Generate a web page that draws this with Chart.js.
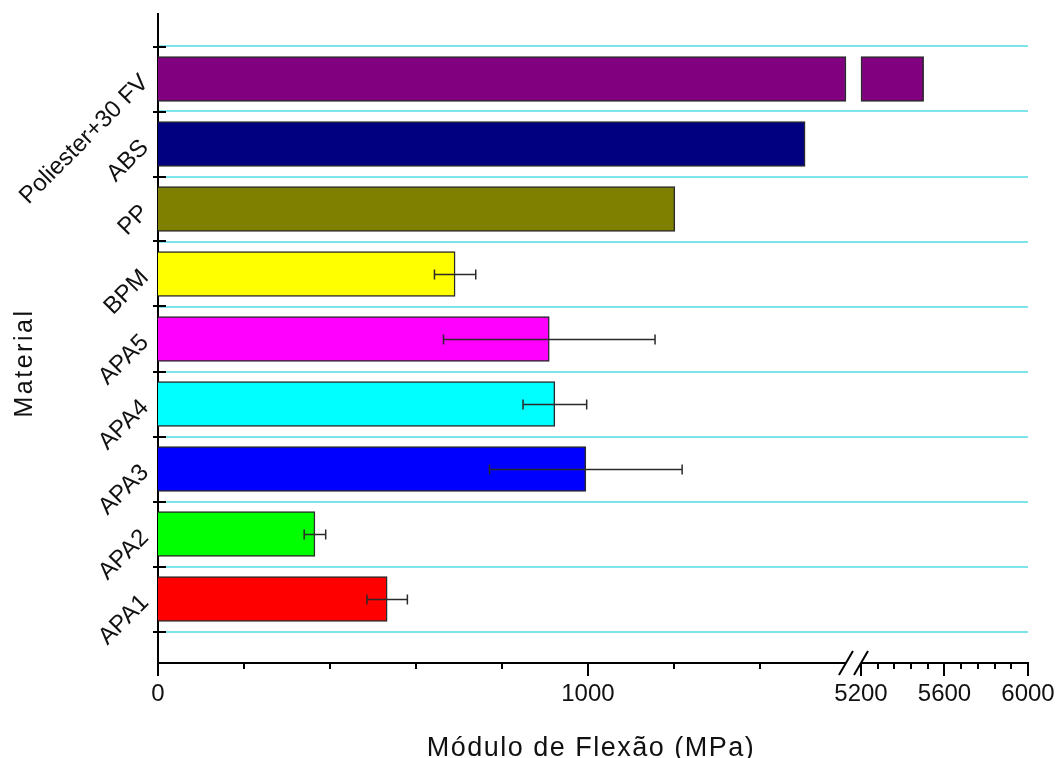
<!DOCTYPE html>
<html>
<head>
<meta charset="utf-8">
<script src="https://cdn.jsdelivr.net/npm/chart.js@4"></script>
<style>
  html, body { margin: 0; padding: 0; background: #fff; }
  canvas { display: block; }
</style>
</head>
<body>
<canvas id="chart" width="1057" height="758"></canvas>
<script>
// ====== DATA ======
const materials = ['APA1', 'APA2', 'APA3', 'APA4', 'APA5', 'BPM', 'PP', 'ABS', 'Poliester+30 FV'];
const modulus   = [533, 365, 995, 923, 910, 691, 1202, 1505, 5500];
const modErr    = [47, 25, 224, 74, 246, 48, null, null, null];
const barColors = ['#ff0000', '#00ff00', '#0000ff', '#00ffff', '#ff00ff', '#ffff00', '#808000', '#000080', '#800080'];

const xMajor      = [0, 1000, 5200, 5600, 6000];
const xTickLabels = ['0', '1000', '5200', '5600', '6000'];
const xMinor      = [200, 400, 600, 800, 1200, 1400, 5280, 5360, 5440, 5520, 5680, 5760, 5840, 5920];

// ====== BROKEN AXIS ======
// 0..1600 at full scale, then 5200..6000 squeezed
const LEFT_MAX = 1600, RIGHT_MIN = 5200, RIGHT_MAX = 6000;
const GAP = 35, RIGHT_K = 0.4855;
function toV(x) {
  if (x <= LEFT_MAX) return x;
  if (x < RIGHT_MIN) return LEFT_MAX + GAP / 2;
  return LEFT_MAX + GAP + (x - RIGHT_MIN) * RIGHT_K;
}

const FONT = '"Liberation Sans", Arial, sans-serif';
Chart.defaults.font.family = FONT;
Chart.defaults.color = '#111';

const leftData = modulus.map((v, i) => ({ y: i, x: toV(Math.min(v, LEFT_MAX)) }));
const rightIdx = modulus.map((v, i) => i).filter(i => modulus[i] > RIGHT_MIN);
const rightData = rightIdx.map(i => ({ y: i, x: [toV(RIGHT_MIN), toV(modulus[i])] }));

function noPad(s) {
  s.paddingLeft = s.paddingRight = s.paddingTop = s.paddingBottom = 0;
}

// ====== EXTRA DRAWING ======
const breakAxis = {
  id: 'breakAxis',
  afterDatasetsDraw(chart) {
    const { ctx, scales: { x, y } } = chart;
    ctx.save();
    ctx.strokeStyle = '#2a2a2a';
    ctx.lineWidth = 1.5;
    modulus.forEach((v, i) => {
      const e = modErr[i];
      if (e == null) return;
      const py = Math.round(y.getPixelForValue(i)) + 0.5;
      const x1 = x.getPixelForValue(toV(v - e));
      const x2 = x.getPixelForValue(toV(v + e));
      ctx.beginPath();
      ctx.moveTo(x1, py); ctx.lineTo(x2, py);
      ctx.moveTo(x1, py - 5); ctx.lineTo(x1, py + 5);
      ctx.moveTo(x2, py - 5); ctx.lineTo(x2, py + 5);
      ctx.stroke();
    });
    ctx.restore();
  },
  afterDraw(chart) {
    const { ctx, chartArea: a, scales: { x, y } } = chart;
    const px = v => x.getPixelForValue(toV(v));
    ctx.save();
    ctx.strokeStyle = '#000';
    ctx.lineWidth = 2;

    // y ticks at the category boundaries
    for (let i = 0; i <= materials.length; i++) {
      const py = Math.round(y.getPixelForValue(i - 0.5));
      ctx.beginPath();
      ctx.moveTo(a.left - 5, py); ctx.lineTo(a.left + 8, py);
      ctx.stroke();
    }

    // x axis line in two pieces
    const ay = a.bottom - 1;
    ctx.beginPath();
    ctx.moveTo(a.left - 1, ay); ctx.lineTo(px(LEFT_MAX), ay);
    ctx.moveTo(px(RIGHT_MIN), ay); ctx.lineTo(px(RIGHT_MAX) + 1, ay);
    ctx.stroke();

    ctx.beginPath();
    xMajor.forEach(v => { const p = Math.round(px(v)); ctx.moveTo(p, ay); ctx.lineTo(p, ay + 13); });
    xMinor.forEach(v => { const p = Math.round(px(v)); ctx.moveTo(p, ay); ctx.lineTo(p, ay + 6); });
    ctx.stroke();

    // break marks
    [px(LEFT_MAX), px(RIGHT_MIN)].forEach(cx => {
      ctx.beginPath();
      ctx.moveTo(cx - 7, ay + 12); ctx.lineTo(cx + 7, ay - 12);
      ctx.stroke();
    });

    // axis titles
    ctx.fillStyle = '#111';
    ctx.textAlign = 'center';
    ctx.textBaseline = 'alphabetic';
    ctx.font = '27px ' + FONT;
    ctx.letterSpacing = '1.5px';
    ctx.fillText('Módulo de Flexão (MPa)', 591, 756);

    ctx.translate(32, 363);
    ctx.rotate(-Math.PI / 2);
    ctx.font = '25px ' + FONT;
    ctx.letterSpacing = '2.5px';
    ctx.fillText('Material', 0, 0);
    ctx.restore();
  }
};

// ====== CHART ======
new Chart(document.getElementById('chart'), {
  type: 'bar',
  data: {
    datasets: [
      { data: leftData, backgroundColor: barColors, borderColor: '#2a2a2a', borderWidth: 1.5,
        barThickness: 45, grouped: false },
      { data: rightData, backgroundColor: rightIdx.map(i => barColors[i]), borderColor: '#2a2a2a',
        borderWidth: 1.5, borderSkipped: false, barThickness: 45, grouped: false }
    ]
  },
  options: {
    indexAxis: 'y',
    responsive: false,
    animation: false,
    layout: { padding: { top: 14, right: 29, left: 0, bottom: 0 } },
    plugins: { legend: { display: false }, tooltip: { enabled: false } },
    scales: {
      x: {
        type: 'linear', min: 0, max: toV(RIGHT_MAX),
        grid: { display: false, drawTicks: false },
        border: { display: false },
        afterBuildTicks: s => { s.ticks = xMajor.map(v => ({ value: toV(v) })); },
        ticks: {
          callback: (val, i) => xTickLabels[i],
          autoSkip: false, maxRotation: 0, padding: 16,
          font: { size: 24 }, color: '#111'
        },
        afterFit: s => { s.height = 94; noPad(s); }
      },
      y: {
        type: 'linear', min: -1, max: 9, offset: false,
        grid: { color: '#7fe3ec', lineWidth: 2, offset: true, drawTicks: false },
        border: { display: true, color: '#000', width: 2 },
        afterBuildTicks: s => { s.ticks = materials.map((m, i) => ({ value: i })); },
        ticks: {
          callback: val => materials[val],
          autoSkip: false, minRotation: 45, maxRotation: 45, padding: 13,
          font: { size: 24 }, color: '#111'
        },
        afterFit: s => { s.width = 158; noPad(s); }
      }
    }
  },
  plugins: [breakAxis]
});
</script>
</body>
</html>
